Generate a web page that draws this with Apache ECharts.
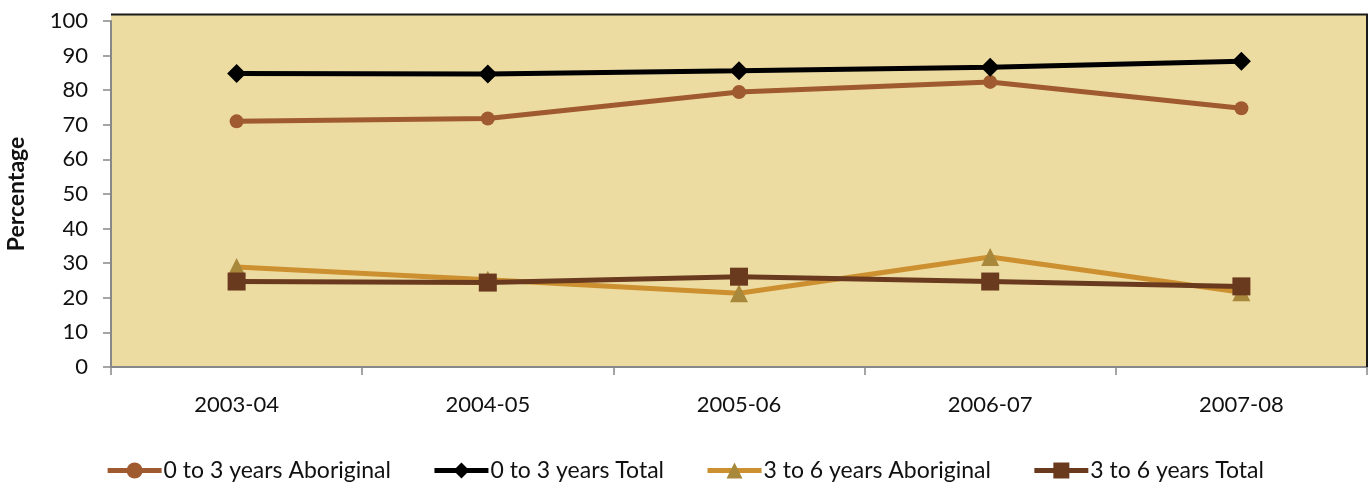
<!DOCTYPE html>
<html><head><meta charset="utf-8">
<script src="https://cdn.jsdelivr.net/npm/echarts@6/dist/echarts.min.js"></script>
<style>html,body{margin:0;padding:0;background:#fff}#c{width:1369px;height:482px}</style>
</head><body><div id="c"></div>
<script>
const categories = ['2003-04','2004-05','2005-06','2006-07','2007-08'];
const aboriginal0to3 = [71.0, 71.8, 79.5, 82.4, 74.8];
const total0to3 = [84.8, 84.7, 85.6, 86.6, 88.4];
const aboriginal3to6 = [28.9, 25.2, 21.3, 31.8, 21.6];
const total3to6 = [24.7, 24.4, 26.1, 24.7, 23.3];
const seriesNames = ['0 to 3 years Aboriginal','0 to 3 years Total','3 to 6 years Aboriginal','3 to 6 years Total'];

const font = 'Lato, "Open Sans", sans-serif';
const chart = echarts.init(document.getElementById('c'));
function mk(name, data, lineColor, markColor, symbol, size, width) {
  return {
    name, type: 'line', data, symbol, symbolSize: size,
    lineStyle: { color: lineColor, width },
    itemStyle: { color: markColor, borderWidth: 0 },
    emphasis: { disabled: true }, animation: false
  };
}
chart.setOption({
  animation: false,
  graphic: [
    { type: 'rect', z: -1, shape: { x: 111, y: 14, width: 1256, height: 353 }, style: { fill: '#EDDCA1' } },
    { type: 'polyline', z: 100, shape: { points: [[111, 14.5], [1367, 14.5], [1367, 367]] }, style: { stroke: '#1a1a1a', lineWidth: 2, fill: null } }
  ],
  grid: { left: 111, right: 2, top: 21, bottom: 115, containLabel: false, outerBoundsMode: 'none' },
  xAxis: {
    type: 'category', data: categories, boundaryGap: true,
    axisLine: { lineStyle: { color: '#888', width: 2 } },
    axisTick: { show: true, length: 8, lineStyle: { color: '#888', width: 1.5 } },
    axisLabel: { color: '#111', fontSize: 22, fontFamily: font, margin: 27 }
  },
  yAxis: {
    type: 'value', min: 0, max: 100, interval: 10,
    name: 'Percentage', nameLocation: 'middle', nameGap: 83, nameRotate: 90,
    nameTextStyle: { fontWeight: 'bold', fontSize: 23, color: '#111', fontFamily: font },
    axisLine: { show: true, lineStyle: { color: '#888', width: 2 } },
    axisTick: { show: true, length: 8, lineStyle: { color: '#888', width: 1.5 } },
    splitLine: { show: false },
    axisLabel: { color: '#111', fontSize: 22, fontFamily: font, margin: 23 }
  },
  legend: {
    bottom: -5, left: 'center', itemWidth: 54, itemHeight: 20, itemGap: 41,
    lineStyle: { width: 5 },
    textStyle: { fontSize: 23, fontFamily: font, color: '#111', padding: [0, 0, 0, -3] },
    data: seriesNames
  },
  series: [
    mk(seriesNames[0], aboriginal0to3, '#A05A30', '#A05A30', 'circle', 14, 5),
    mk(seriesNames[1], total0to3, '#000000', '#000000', 'diamond', 19, 5),
    mk(seriesNames[2], aboriginal3to6, '#CC9030', '#A8883A', 'triangle', 18, 5),
    mk(seriesNames[3], total3to6, '#6A3A1F', '#6A3A1F', 'rect', 18, 5)
  ]
});
</script></body></html>
